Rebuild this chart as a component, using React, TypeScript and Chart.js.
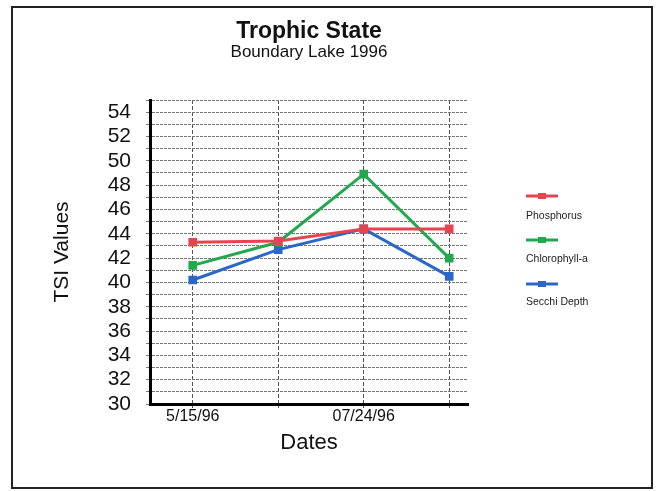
import React, { useEffect, useRef } from "react";
import { Chart, registerables } from "chart.js";

Chart.register(...registerables);

const dateLabels = ["5/15/96", "", "07/24/96", ""];
const seriesNames = ["Phosphorus", "Chlorophyll-a", "Secchi Depth"];
const phosphorus = [43.3, 43.4, 44.4, 44.4];
const chlorophyll = [41.4, 43.3, 48.9, 42.0];
const secchi = [40.2, 42.7, 44.4, 40.5];
const seriesColors = ["#e6454f", "#22a84e", "#2a67c6"];
const yTickValues = [30, 31, 32, 33, 34, 35, 36, 37, 38, 39, 40, 41, 42, 43, 44, 45, 46, 47, 48, 49, 50, 51, 52, 53, 54, 55];
const yLabelValues = [30, 32, 34, 36, 38, 40, 42, 44, 46, 48, 50, 52, 54];

const FONT = "'Liberation Sans', Arial, Helvetica, sans-serif";

const framePlugin = {
  id: "frame",
  afterDraw(chart: any) {
    const ctx = chart.ctx;
    ctx.save();
    ctx.strokeStyle = "#222";
    ctx.lineWidth = 2;
    ctx.strokeRect(12, 7, 640, 481);
    ctx.restore();
  },
};

const sideLegendPlugin = {
  id: "sideLegend",
  afterDraw(chart: any) {
    const ctx = chart.ctx;
    ctx.save();
    chart.data.datasets.forEach((ds: any, i: number) => {
      const ly = 196 + 44 * i;
      ctx.strokeStyle = ds.borderColor;
      ctx.lineWidth = 3;
      ctx.beginPath();
      ctx.moveTo(526, ly);
      ctx.lineTo(558, ly);
      ctx.stroke();
      ctx.fillStyle = ds.borderColor;
      ctx.fillRect(538, ly - 3, 8, 6);
      ctx.fillStyle = "#222";
      ctx.font = `10.5px ${FONT}`;
      ctx.textAlign = "left";
      ctx.textBaseline = "middle";
      ctx.fillText(ds.label, 526, 216 + 43 * i);
    });
    ctx.restore();
  },
};

export default function App() {
  const canvasRef = useRef<HTMLCanvasElement | null>(null);

  useEffect(() => {
    if (!canvasRef.current) return;
    const values = [phosphorus, chlorophyll, secchi];
    const chart = new Chart(canvasRef.current, {
      type: "line",
      data: {
        datasets: values.map((vals, i) => ({
          label: seriesNames[i],
          data: vals.map((v, j) => ({ x: j, y: v })),
          borderColor: seriesColors[i],
          backgroundColor: seriesColors[i],
          borderWidth: 3,
          pointStyle: "rect",
          pointRadius: 4,
          tension: 0,
        })),
      },
      options: {
        responsive: false,
        animation: false,
        layout: { padding: { left: 0, right: 189, top: 0, bottom: 27 } },
        plugins: {
          legend: { display: false },
          tooltip: { enabled: false },
          title: {
            display: true,
            text: "Trophic State",
            fullSize: false,
            color: "#111",
            font: { family: FONT, size: 23, weight: "bold", lineHeight: 1 },
            padding: { top: 20, bottom: 0 },
          },
          subtitle: {
            display: true,
            text: "Boundary Lake 1996",
            fullSize: false,
            color: "#111",
            font: { family: FONT, size: 17, lineHeight: 1 },
            padding: { top: 1, bottom: 39 },
          },
        },
        scales: {
          x: {
            type: "linear",
            min: -0.5,
            max: 3.22,
            afterBuildTicks(scale: any) {
              scale.ticks = dateLabels.map((_, i) => ({ value: i }));
            },
            afterFit(scale: any) {
              scale.height = 60;
            },
            grid: {
              color: "#555",
              lineWidth: 1,
              drawTicks: true,
              tickLength: 4,
              tickColor: "#555",
            },
            border: { display: true, color: "#000", width: 3, dash: [4, 2] },
            ticks: {
              autoSkip: false,
              maxRotation: 0,
              padding: -1,
              color: "#111",
              font: { family: FONT, size: 16 },
              callback: (v: any) => dateLabels[Math.round(Number(v))] ?? "",
            },
            title: {
              display: true,
              text: "Dates",
              color: "#111",
              font: { family: FONT, size: 22, lineHeight: 1.2 },
              padding: { top: 0, bottom: 8 },
            },
          },
          y: {
            type: "linear",
            min: 30,
            max: 55,
            afterBuildTicks(scale: any) {
              scale.ticks = yTickValues.map((v) => ({ value: v }));
            },
            afterFit(scale: any) {
              scale.width = 150;
            },
            grid: {
              color: "#777",
              lineWidth: 1,
              drawTicks: true,
              tickLength: 4,
              tickColor: "#777",
            },
            border: { display: true, color: "#000", width: 3, dash: [3, 1] },
            ticks: {
              autoSkip: false,
              padding: 15,
              color: "#111",
              font: { family: FONT, size: 21, lineHeight: 1 },
              callback: (v: any) => (yLabelValues.includes(Number(v)) ? String(v) : ""),
            },
            title: {
              display: true,
              text: "TSI Values",
              color: "#111",
              font: { family: FONT, size: 21, lineHeight: 1.2 },
              padding: { top: 50, bottom: 0 },
            },
          },
        },
      },
      plugins: [framePlugin, sideLegendPlugin],
    } as any);
    return () => chart.destroy();
  }, []);

  return (
    <div style={{ position: "absolute", left: 0, top: 0, width: 657, height: 491, background: "#fff" }}>
      <canvas ref={canvasRef} width={657} height={491} />
    </div>
  );
}
